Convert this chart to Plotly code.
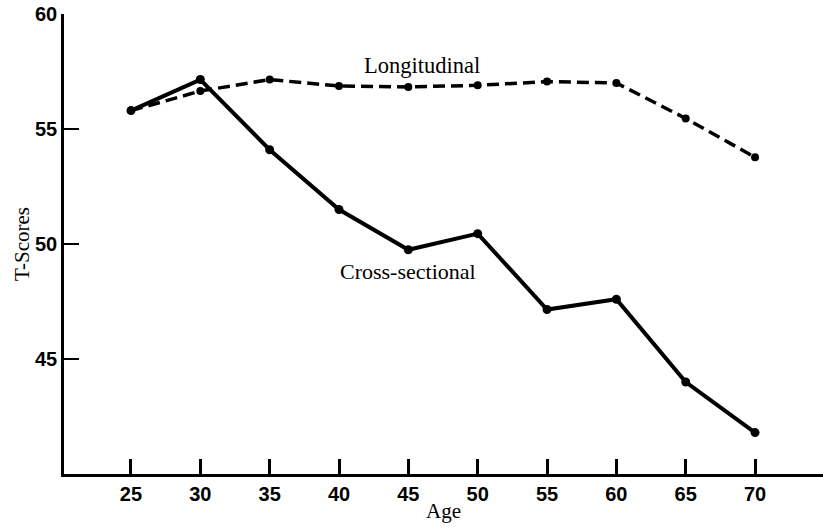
import plotly.graph_objects as go

ages = [25, 30, 35, 40, 45, 50, 55, 60, 65, 70]
cross_sectional = [55.8, 57.15, 54.1, 51.5, 49.75, 50.45, 47.15, 47.6, 44.0, 41.8]
longitudinal = [55.8, 56.65, 57.15, 56.87, 56.83, 56.9, 57.06, 57.0, 55.46, 53.77]
x_ticks = [25, 30, 35, 40, 45, 50, 55, 60, 65, 70]
y_ticks = [45, 50, 55, 60]

serif = "Liberation Serif, Times New Roman, serif"
sans = "Liberation Sans, Arial, Helvetica, sans-serif"

fig = go.Figure()
fig.add_trace(go.Scatter(
    x=ages, y=longitudinal, mode="lines+markers", name="Longitudinal",
    line=dict(color="black", width=3.5, dash="12px,6px"),
    marker=dict(color="black", size=8),
))
fig.add_trace(go.Scatter(
    x=ages, y=cross_sectional, mode="lines+markers", name="Cross-sectional",
    line=dict(color="black", width=4),
    marker=dict(color="black", size=9),
))

fig.add_annotation(x=45.96, y=57.78, text="Longitudinal", showarrow=False,
                   font=dict(family=serif, size=22.5, color="black"))
fig.add_annotation(x=44.98, y=48.8, text="Cross-sectional", showarrow=False,
                   font=dict(family=serif, size=22, color="black"))

fig.update_layout(
    width=823, height=529,
    margin=dict(l=64, r=0, t=14, b=55),
    paper_bgcolor="white", plot_bgcolor="white",
    showlegend=False,
    xaxis=dict(
        range=[20.17, 74.9], tickvals=x_ticks, ticktext=[str(v) for v in x_ticks],
        automargin=False,
        showgrid=False, zeroline=False, showline=True, linecolor="black", linewidth=2.5,
        ticks="inside", ticklen=15, tickwidth=2.5, tickcolor="black",
        tickfont=dict(family=sans, size=20, color="black", weight="bold"),
        title=dict(text="Age", font=dict(family=serif, size=21, color="black"), standoff=0),
    ),
    yaxis=dict(
        range=[40, 60], tickvals=y_ticks, ticktext=[str(v) for v in y_ticks],
        automargin=False,
        showgrid=False, zeroline=False, showline=True, linecolor="black", linewidth=2.5,
        ticks="inside", ticklen=15, tickwidth=2, tickcolor="black",
        tickfont=dict(family=sans, size=20, color="black", weight="bold"),
        title=dict(text="T-Scores", font=dict(family=serif, size=21, color="black"), standoff=0),
    ),
)

fig.write_html("out.html", config={"displayModeBar": False},
               post_script="document.body.style.margin='0';")
